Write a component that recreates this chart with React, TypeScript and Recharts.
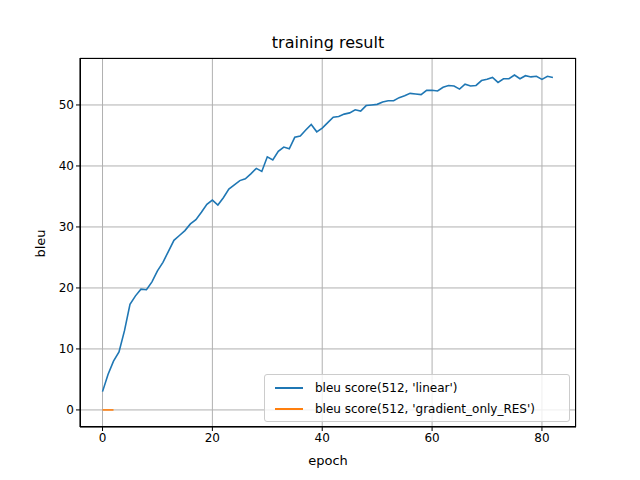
import { LineChart, Line, XAxis, YAxis, CartesianGrid } from 'recharts';

const linearScores = [
  3, 5.8, 8, 9.5, 13, 17.3, 18.7, 19.8, 19.7, 21, 22.8, 24.2, 26, 27.8, 28.6, 29.4, 30.5, 31.2, 32.4, 33.7,
  34.4, 33.6, 34.8, 36.2, 36.9, 37.6, 37.9, 38.7, 39.6, 39.1, 41.5, 41, 42.4, 43.1, 42.8, 44.7, 44.9, 45.9,
  46.8, 45.6, 46.2, 47.1, 48, 48.1, 48.5, 48.7, 49.2, 49, 49.9, 50, 50.1, 50.5, 50.7, 50.7, 51.2, 51.5, 51.9,
  51.8, 51.7, 52.4, 52.4, 52.3, 52.9, 53.2, 53.1, 52.6, 53.4, 53.1, 53.2, 54, 54.2, 54.5, 53.7, 54.3, 54.3,
  54.9, 54.3, 54.8, 54.6, 54.7, 54.2, 54.7, 54.5,
];
const gradientScores = [0, 0, 0];
const xTicks = [0, 20, 40, 60, 80];
const yTicks = [0, 10, 20, 30, 40, 50];

const data = linearScores.map((v, i) => ({
  epoch: i,
  linear: v,
  gradient: i < gradientScores.length ? gradientScores[i] : undefined,
}));

const font = 'DejaVu Sans';

function LegendBox() {
  const row = (color: string, label: string) => (
    <div style={{ display: 'flex', alignItems: 'center', height: 21 }}>
      <div style={{ width: 28, height: 2, background: color, margin: '0 12px 0 6px' }} />
      <span>{label}</span>
    </div>
  );
  return (
    <div style={{ position: 'absolute', left: 264, top: 374, background: 'rgba(255,255,255,0.8)', border: '1px solid #ccc', borderRadius: 3, padding: '2px 4px', fontFamily: font, fontSize: 12, color: '#000', width: 296 }}>
      {row('#1f77b4', "bleu score(512, 'linear')")}
      {row('#ff7f0e', "bleu score(512, 'gradient_only_RES')")}
    </div>
  );
}

export default function App() {
  return (
    <div style={{ position: 'absolute', left: 0, top: 0, width: 640, height: 480, background: '#fff' }}>
      <div style={{ position: 'absolute', top: 33, width: 640, left: 8, textAlign: 'center', fontFamily: font, fontSize: 16 }}>training result</div>
      <div style={{ position: 'absolute', top: 453, left: 80, width: 496, textAlign: 'center', fontFamily: font, fontSize: 13 }}>epoch</div>
      <div style={{ position: 'absolute', left: 26, top: 236, transform: 'rotate(-90deg)', fontFamily: font, fontSize: 13 }}>bleu</div>
      <LineChart width={640} height={480} data={data} margin={{ top: 58, right: 64, bottom: 23, left: 20 }}>
        <CartesianGrid stroke="#b0b0b0" />
        <XAxis dataKey="epoch" type="number" domain={[-4.1, 86.2]} ticks={xTicks} allowDataOverflow height={30}
          tick={{ fontFamily: font, fontSize: 12, fill: '#000' }} stroke="#000" tickSize={4} />
        <YAxis type="number" domain={[-2.8, 57.7]} ticks={yTicks} allowDataOverflow width={60}
          tick={{ fontFamily: font, fontSize: 12, fill: '#000' }} stroke="#000" tickSize={4} />
        <Line dataKey="linear" stroke="#1f77b4" strokeWidth={1.6} dot={false} isAnimationActive={false} />
        <Line dataKey="gradient" stroke="#ff7f0e" strokeWidth={1.6} dot={false} isAnimationActive={false} />
      </LineChart>
      <div style={{ position: 'absolute', left: 80, top: 58, width: 496, height: 369, border: '1px solid #000', boxSizing: 'border-box', pointerEvents: 'none' }} />
      <LegendBox />
    </div>
  );
}
